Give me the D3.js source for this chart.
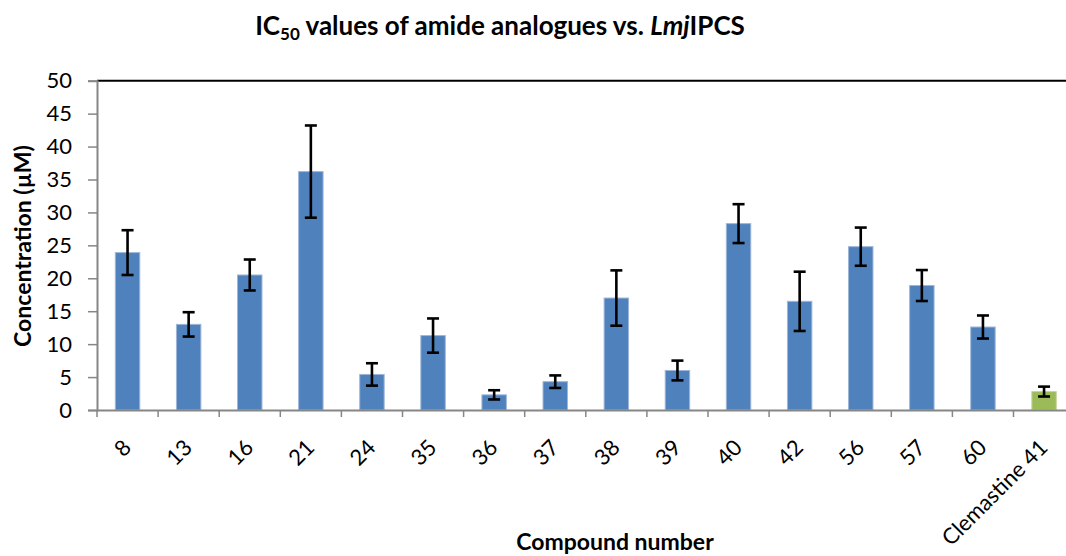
<!DOCTYPE html>
<html><head><meta charset="utf-8">
<script src="https://cdn.jsdelivr.net/npm/d3@7"></script>
<style>
body{margin:0;background:#fff;}
svg{display:block;font-family:Lato,"Open Sans",sans-serif;}
</style></head>
<body><svg id="c" width="1066" height="556"></svg>
<script>
const categories = ["8","13","16","21","24","35","36","37","38","39","40","42","56","57","60","Clemastine 41"];
const values = [23.9,13.0,20.5,36.2,5.4,11.3,2.3,4.3,17.0,6.0,28.3,16.5,24.8,18.9,12.6,2.8];
const errors = [3.4,1.85,2.35,7.0,1.7,2.6,0.7,0.95,4.2,1.5,2.95,4.5,2.9,2.35,1.75,0.75];
const yTicks = [0,5,10,15,20,25,30,35,40,45,50];

const svg = d3.select("#c");
const L = 97, T = 80.7, B = 410, R = 1074.6;
const x = d3.scaleBand().domain(categories).range([L, R]).paddingInner(0.6).paddingOuter(0.3);
const y = d3.scaleLinear().domain([0, 50]).range([B, T]);
const axisCol = "#868686";

// top border
svg.append("line").attr("x1", L).attr("x2", 1066).attr("y1", T).attr("y2", T)
  .attr("stroke", "#000").attr("stroke-width", 2);

// bars
svg.append("g").selectAll("rect").data(categories).join("rect")
  .attr("x", d => x(d)).attr("width", x.bandwidth())
  .attr("y", (d,i) => y(values[i])).attr("height", (d,i) => y(0) - y(values[i]))
  .attr("fill", (d,i) => i === categories.length - 1 ? "#9BBB59" : "#4F81BD")
  .attr("stroke", (d,i) => i === categories.length - 1 ? "#c3d69b" : "#9db6d8")
  .attr("stroke-width", 1);

// error bars
const eg = svg.append("g").attr("stroke", "#000").attr("stroke-width", 2.6);
categories.forEach((d,i) => {
  const cx = x(d) + x.bandwidth()/2;
  const hi = y(values[i] + errors[i]), lo = y(values[i] - errors[i]);
  eg.append("line").attr("x1", cx).attr("x2", cx).attr("y1", hi).attr("y2", lo);
  eg.append("line").attr("x1", cx-6).attr("x2", cx+6).attr("y1", hi).attr("y2", hi);
  eg.append("line").attr("x1", cx-6).attr("x2", cx+6).attr("y1", lo).attr("y2", lo);
});

// y axis
const ya = svg.append("g").attr("transform", `translate(${L},0)`)
  .call(d3.axisLeft(y).tickValues(yTicks).tickSize(9).tickPadding(16));
ya.select(".domain").attr("stroke", axisCol).attr("stroke-width", 2);
ya.selectAll(".tick line").attr("stroke", axisCol).attr("stroke-width", 1.5);
ya.selectAll(".tick text").attr("font-size", 22).attr("fill", "#000")
  .attr("font-family", "Lato");

// x axis
const xa = svg.append("g").attr("transform", `translate(0,${B})`)
  .call(d3.axisBottom(x).tickSize(0).tickPadding(0));
xa.select(".domain").attr("stroke", axisCol).attr("stroke-width", 2);
xa.selectAll(".tick text").attr("font-size", 22).attr("fill", "#000").attr("font-family", "Lato")
  .attr("text-anchor", "end").attr("dy", 0).attr("y", 0)
  .attr("transform", "translate(5,39) rotate(-45)");
const bounds = categories.map(d => x(d) - x.step()*x.paddingOuter()).concat([R]);
svg.append("g").selectAll("line").data(bounds).join("line")
  .attr("x1", d => d).attr("x2", d => d).attr("y1", B).attr("y2", B + 7)
  .attr("stroke", axisCol).attr("stroke-width", 1.5);

// title
const t = svg.append("text").attr("x", 500).attr("y", 35).attr("text-anchor", "middle")
  .attr("font-weight", "bold").attr("font-size", 26).attr("fill", "#000");
t.append("tspan").text("IC");
t.append("tspan").text("50").attr("font-size", 17).attr("dy", 5);
t.append("tspan").text(" values of amide analogues vs. ").attr("dy", -5);
t.append("tspan").text("Lmj").attr("font-style", "italic");
t.append("tspan").text("IPCS");

// axis titles
svg.append("text").attr("x", 615).attr("y", 550).attr("text-anchor", "middle")
  .attr("font-weight", "bold").attr("font-size", 23).text("Compound number");
svg.append("text").attr("transform", "translate(31,246) rotate(-90)").attr("text-anchor", "middle")
  .attr("font-weight", "bold").attr("font-size", 23).text("Concentration (µM)");
</script></body></html>
